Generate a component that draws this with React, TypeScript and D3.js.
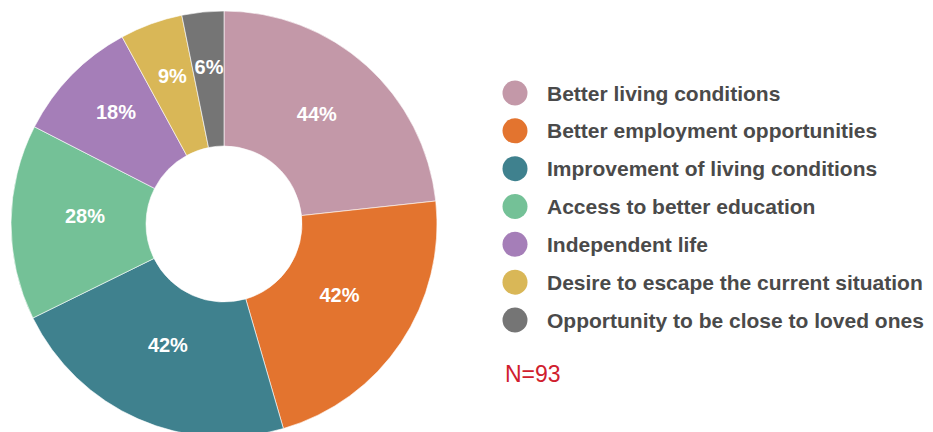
import React from "react";
import * as d3 from "d3";

const categories = [
  "Better living conditions",
  "Better employment opportunities",
  "Improvement of living conditions",
  "Access to better education",
  "Independent life",
  "Desire to escape the current situation",
  "Opportunity to be close to loved ones",
];
const values = [44, 42, 42, 28, 18, 9, 6];
const colors = ["#C398A8", "#E3742F", "#3F818E", "#74C197", "#A57EB8", "#D9B757", "#757575"];
const sampleLabel = "N=93";

export default function App() {
  const W = 933, H = 432;
  const cx = 224, cy = 224, R = 213, r0 = 78;
  const pie = d3.pie<number>().sort(null).value((d) => d)(values);
  const arc = d3.arc<d3.PieArcDatum<number>>().innerRadius(r0).outerRadius(R);
  const legendY = d3.scalePoint<number>().domain(d3.range(categories.length)).range([93, 320]);
  return (
    <svg width={W} height={H} style={{ position: "absolute", left: 0, top: 0, background: "#fff" }}
      fontFamily="'Liberation Sans', Arial, Helvetica, sans-serif">
      <g transform={`translate(${cx},${cy})`}>
        {pie.map((p, i) => (
          <path key={i} d={arc(p) || ""} fill={colors[i]} stroke="#fff" strokeWidth={0.6} />
        ))}
        {pie.map((p, i) => {
          const lr = p.value < 20 ? 151 : 139;
          const c = d3.arc<d3.PieArcDatum<number>>().innerRadius(lr).outerRadius(lr).centroid(p);
          return (
            <text key={i} x={c[0]} y={c[1]} dy="0.02em" textAnchor="middle" fill="#fff"
              fontWeight="bold" fontSize={20}>{`${p.value}%`}</text>
          );
        })}
      </g>
      {categories.map((cat, i) => (
        <g key={i} transform={`translate(0,${legendY(i)})`}>
          <circle cx={515} cy={0} r={12.5} fill={colors[i]} />
          <text x={547} y={0} dy="0.36em" fill="#4A4A4A" fontWeight="bold" fontSize={21}>{cat}</text>
        </g>
      ))}
      <text x={505} y={382} fill="#D0202E" fontSize={23}>{sampleLabel}</text>
    </svg>
  );
}
